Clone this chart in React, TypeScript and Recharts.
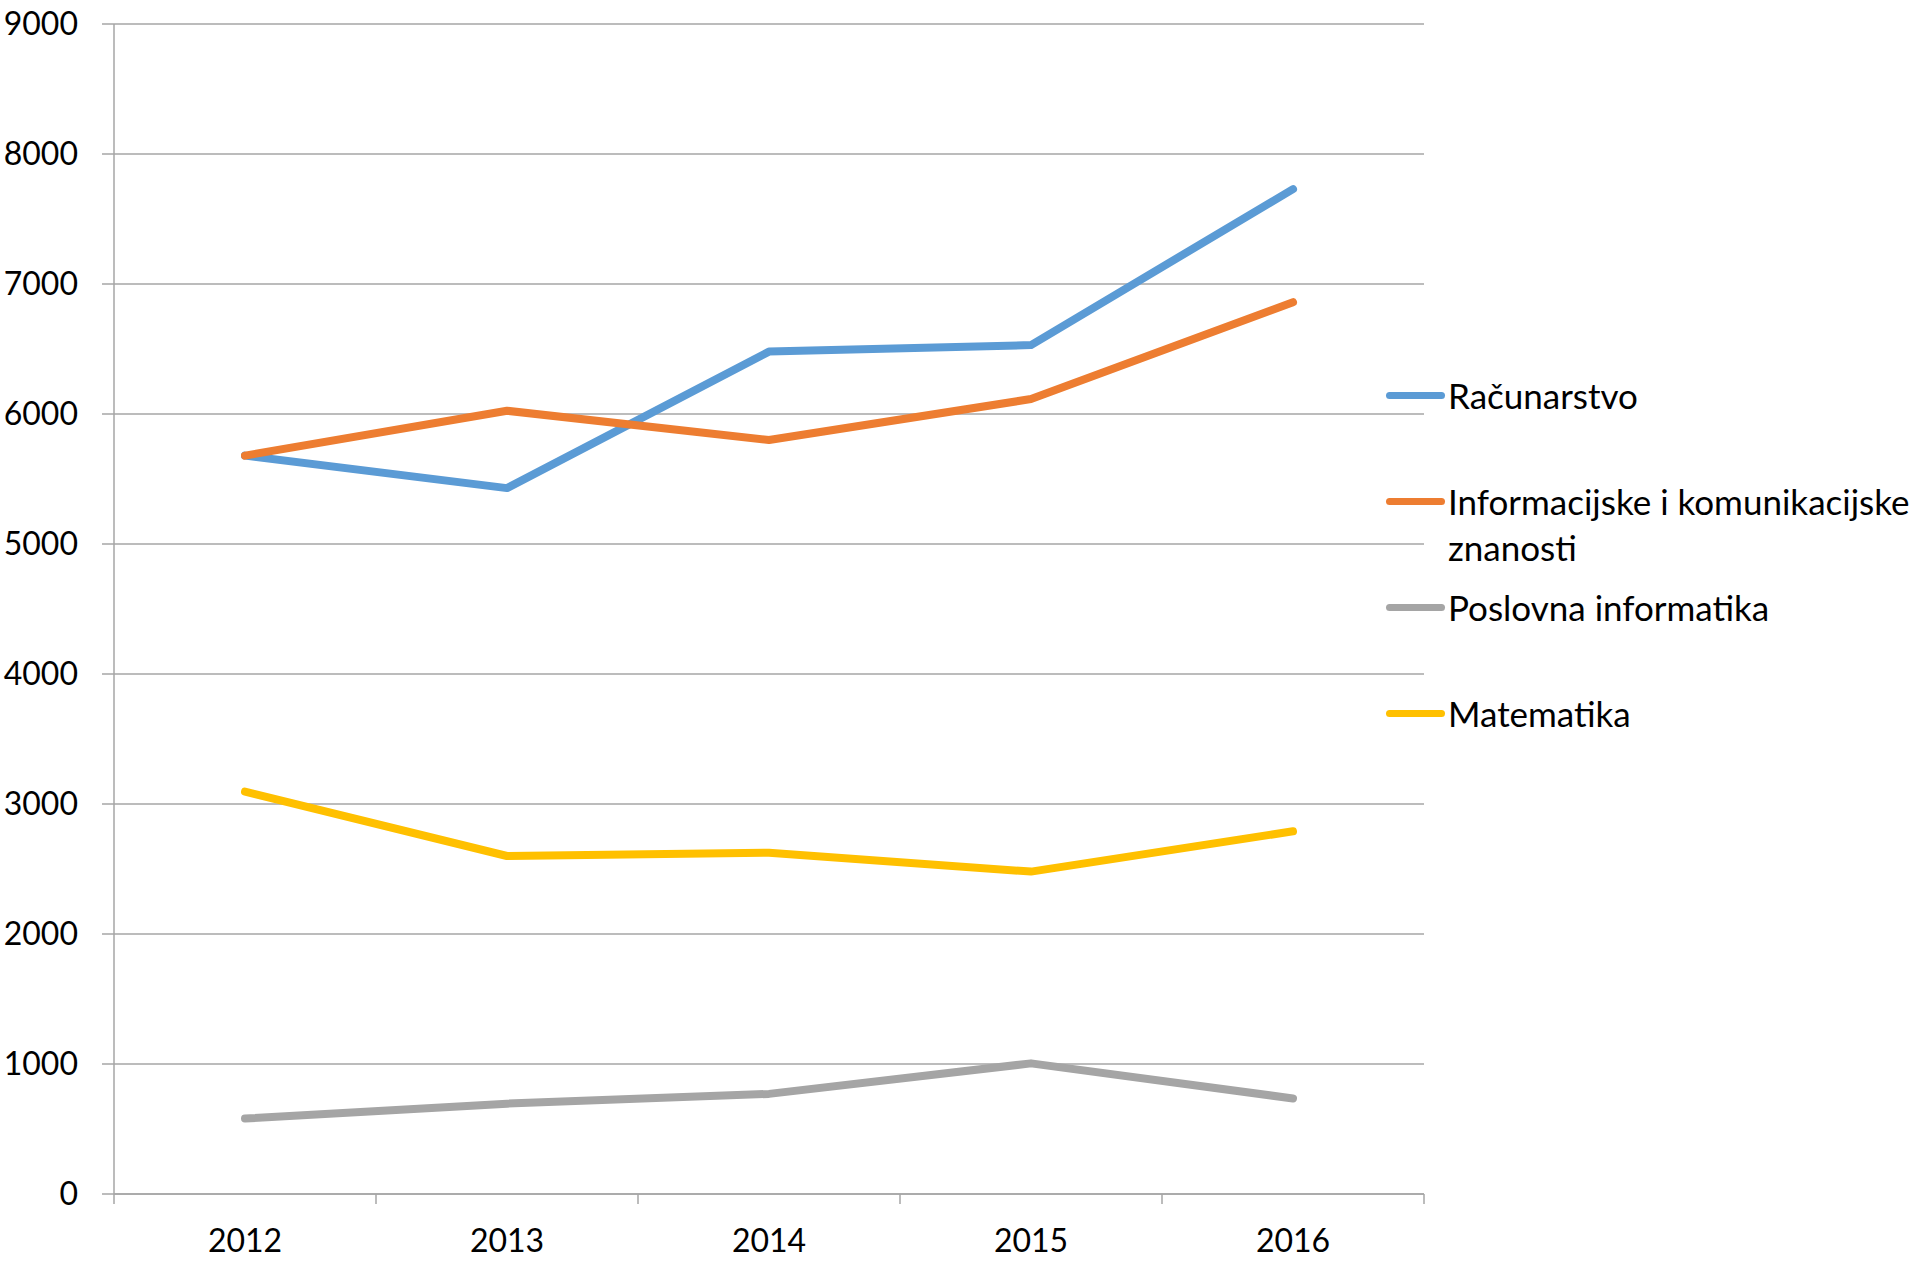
import { LineChart, Line, XAxis, YAxis, CartesianGrid } from 'recharts';

const years = ['2012', '2013', '2014', '2015', '2016'];
const racunarstvo = [5680, 5430, 6480, 6530, 7730];
const informacijske = [5680, 6025, 5800, 6115, 6860];
const poslovna = [580, 695, 770, 1005, 735];
const matematika = [3095, 2600, 2625, 2480, 2790];
const yTicks = [0, 1000, 2000, 3000, 4000, 5000, 6000, 7000, 8000, 9000];

const seriesNames = [
  'Računarstvo',
  'Informacijske i komunikacijske znanosti',
  'Poslovna informatika',
  'Matematika'
];
const seriesKeys = ['racunarstvo', 'informacijske', 'poslovna', 'matematika'];
const seriesColors = ['#5B9BD5', '#ED7D31', '#A5A5A5', '#FFC000'];

const chartData = years.map((year, i) => ({
  year,
  racunarstvo: racunarstvo[i],
  informacijske: informacijske[i],
  poslovna: poslovna[i],
  matematika: matematika[i]
}));

const FONT = 'Lato, "Open Sans", sans-serif';
const GRID = '#A6A6A6';

// Excel-style category ticks: marks sit on the band edges, not the centres
const YearTick = (props: any) => {
  const { x, y, payload, index } = props;
  const half = payload?.offset || 131;
  const last = index === years.length - 1;
  return (
    <g>
      <line x1={x - half} y1={y} x2={x - half} y2={y + 10} stroke={GRID} strokeWidth={1.5} />
      {last && <line x1={x + half} y1={y} x2={x + half} y2={y + 10} stroke={GRID} strokeWidth={1.5} />}
      <text x={x} y={y + 58} textAnchor="middle" fontSize={32} fontFamily={FONT} fill="#000">
        {payload.value}
      </text>
    </g>
  );
};

const LegendBox = () => (
  <div
    style={{
      position: 'absolute',
      left: 1386,
      top: 372,
      fontFamily: FONT,
      fontSize: 35,
      color: '#000',
      width: 531
    }}
  >
    {seriesNames.map((name, i) => (
      <div key={name} style={{ height: 106, display: 'flex', alignItems: 'flex-start' }}>
        <div
          style={{
            width: 59,
            height: 7,
            borderRadius: 3.5,
            background: seriesColors[i],
            marginTop: 19.5,
            marginRight: 3,
            flex: 'none'
          }}
        />
        <div style={{ lineHeight: '46px', width: 468 }}>{name}</div>
      </div>
    ))}
  </div>
);

export default function App() {
  return (
    <div style={{ position: 'absolute', left: 0, top: 0, width: 1917, height: 1261, background: '#fff' }}>
      <LineChart width={1917} height={1261} data={chartData} margin={{ top: 24, right: 493, bottom: 0, left: 0 }}>
        <CartesianGrid vertical={false} stroke={GRID} strokeWidth={1.5} />
        <XAxis
          dataKey="year"
          scale="band"
          height={67}
          axisLine={{ stroke: GRID, strokeWidth: 1.5 }}
          tickLine={false}
          tickSize={0}
          tickMargin={0}
          tick={<YearTick />}
          interval={0}
        />
        <YAxis
          width={114}
          domain={[0, 9000]}
          ticks={yTicks}
          interval={0}
          axisLine={{ stroke: GRID, strokeWidth: 1.5 }}
          tickLine={{ stroke: GRID, strokeWidth: 1.5 }}
          tickSize={12}
          tickMargin={24}
          tick={{ fontSize: 32, fontFamily: FONT, fill: '#000' }}
        />
        {seriesKeys.map((key, i) => (
          <Line
            key={key}
            dataKey={key}
            name={seriesNames[i]}
            type="linear"
            stroke={seriesColors[i]}
            strokeWidth={8}
            strokeLinecap="round"
            strokeLinejoin="round"
            dot={false}
            activeDot={false}
            isAnimationActive={false}
          />
        ))}
      </LineChart>
      <LegendBox />
    </div>
  );
}
